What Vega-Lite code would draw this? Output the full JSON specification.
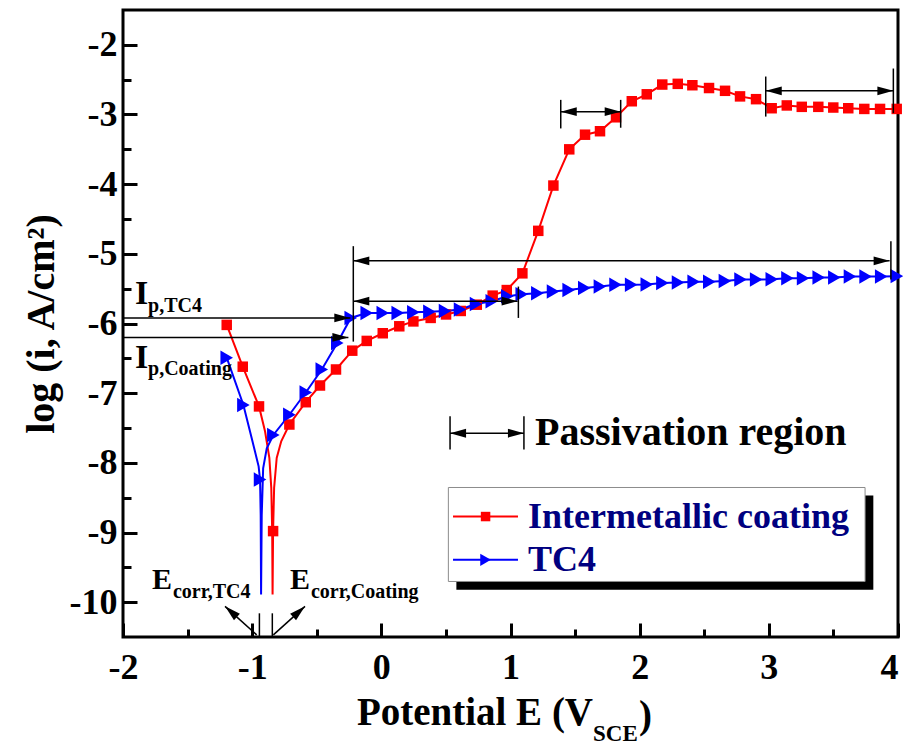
{
  "$schema": "https://vega.github.io/schema/vega-lite/v6.json",
  "width": 775,
  "height": 627,
  "autosize": {"type": "none"},
  "padding": {"left": 123, "top": 10, "right": 5, "bottom": 109},
  "background": "white",
  "config": {"view": {"stroke": "#000000", "strokeWidth": 3}},
  "resolve": {"axis": {"x": "independent", "y": "independent"}},
  "datasets": {
    "curves": [
      {"series": "Intermetallic coating", "x": -1.197, "y": -6.02},
      {"series": "Intermetallic coating", "x": -1.073, "y": -6.62},
      {"series": "Intermetallic coating", "x": -0.947, "y": -7.19},
      {"series": "Intermetallic coating", "x": -0.9, "y": -7.55},
      {"series": "Intermetallic coating", "x": -0.867, "y": -7.93},
      {"series": "Intermetallic coating", "x": -0.852, "y": -8.36},
      {"series": "Intermetallic coating", "x": -0.845, "y": -8.99},
      {"series": "Intermetallic coating", "x": -0.842, "y": -9.89},
      {"series": "Intermetallic coating", "x": -0.838, "y": -8.98},
      {"series": "Intermetallic coating", "x": -0.83, "y": -8.36},
      {"series": "Intermetallic coating", "x": -0.81, "y": -7.93},
      {"series": "Intermetallic coating", "x": -0.775, "y": -7.69},
      {"series": "Intermetallic coating", "x": -0.712, "y": -7.45},
      {"series": "Intermetallic coating", "x": -0.585, "y": -7.13},
      {"series": "Intermetallic coating", "x": -0.475, "y": -6.89},
      {"series": "Intermetallic coating", "x": -0.351, "y": -6.66},
      {"series": "Intermetallic coating", "x": -0.225, "y": -6.39},
      {"series": "Intermetallic coating", "x": -0.113, "y": -6.25},
      {"series": "Intermetallic coating", "x": 0.011, "y": -6.14},
      {"series": "Intermetallic coating", "x": 0.139, "y": -6.04},
      {"series": "Intermetallic coating", "x": 0.248, "y": -5.97},
      {"series": "Intermetallic coating", "x": 0.382, "y": -5.92},
      {"series": "Intermetallic coating", "x": 0.501, "y": -5.87},
      {"series": "Intermetallic coating", "x": 0.615, "y": -5.82},
      {"series": "Intermetallic coating", "x": 0.739, "y": -5.73},
      {"series": "Intermetallic coating", "x": 0.862, "y": -5.6},
      {"series": "Intermetallic coating", "x": 0.971, "y": -5.52},
      {"series": "Intermetallic coating", "x": 1.092, "y": -5.28},
      {"series": "Intermetallic coating", "x": 1.215, "y": -4.67},
      {"series": "Intermetallic coating", "x": 1.332, "y": -4.02},
      {"series": "Intermetallic coating", "x": 1.455, "y": -3.5},
      {"series": "Intermetallic coating", "x": 1.577, "y": -3.29},
      {"series": "Intermetallic coating", "x": 1.693, "y": -3.24},
      {"series": "Intermetallic coating", "x": 1.817, "y": -3.04},
      {"series": "Intermetallic coating", "x": 1.939, "y": -2.81},
      {"series": "Intermetallic coating", "x": 2.055, "y": -2.71},
      {"series": "Intermetallic coating", "x": 2.175, "y": -2.57},
      {"series": "Intermetallic coating", "x": 2.295, "y": -2.56},
      {"series": "Intermetallic coating", "x": 2.408, "y": -2.58},
      {"series": "Intermetallic coating", "x": 2.537, "y": -2.62},
      {"series": "Intermetallic coating", "x": 2.661, "y": -2.66},
      {"series": "Intermetallic coating", "x": 2.777, "y": -2.74},
      {"series": "Intermetallic coating", "x": 2.901, "y": -2.78},
      {"series": "Intermetallic coating", "x": 3.022, "y": -2.91},
      {"series": "Intermetallic coating", "x": 3.139, "y": -2.87},
      {"series": "Intermetallic coating", "x": 3.255, "y": -2.89},
      {"series": "Intermetallic coating", "x": 3.383, "y": -2.89},
      {"series": "Intermetallic coating", "x": 3.499, "y": -2.9},
      {"series": "Intermetallic coating", "x": 3.615, "y": -2.91},
      {"series": "Intermetallic coating", "x": 3.739, "y": -2.92},
      {"series": "Intermetallic coating", "x": 3.861, "y": -2.92},
      {"series": "Intermetallic coating", "x": 3.99, "y": -2.92},
      {"series": "TC4", "x": -1.197, "y": -6.49},
      {"series": "TC4", "x": -1.068, "y": -7.17},
      {"series": "TC4", "x": -1.003, "y": -7.65},
      {"series": "TC4", "x": -0.95, "y": -8.05},
      {"series": "TC4", "x": -0.939, "y": -8.24},
      {"series": "TC4", "x": -0.934, "y": -8.75},
      {"series": "TC4", "x": -0.931, "y": -9.89},
      {"series": "TC4", "x": -0.926, "y": -8.75},
      {"series": "TC4", "x": -0.915, "y": -8.08},
      {"series": "TC4", "x": -0.887, "y": -7.79},
      {"series": "TC4", "x": -0.836, "y": -7.6},
      {"series": "TC4", "x": -0.712, "y": -7.31},
      {"series": "TC4", "x": -0.585, "y": -6.99},
      {"series": "TC4", "x": -0.461, "y": -6.66},
      {"series": "TC4", "x": -0.341, "y": -6.28},
      {"series": "TC4", "x": -0.237, "y": -5.92},
      {"series": "TC4", "x": -0.113, "y": -5.85},
      {"series": "TC4", "x": 0.011, "y": -5.85},
      {"series": "TC4", "x": 0.127, "y": -5.85},
      {"series": "TC4", "x": 0.248, "y": -5.84},
      {"series": "TC4", "x": 0.372, "y": -5.83},
      {"series": "TC4", "x": 0.493, "y": -5.82},
      {"series": "TC4", "x": 0.609, "y": -5.8},
      {"series": "TC4", "x": 0.733, "y": -5.72},
      {"series": "TC4", "x": 0.855, "y": -5.68},
      {"series": "TC4", "x": 0.975, "y": -5.61},
      {"series": "TC4", "x": 1.087, "y": -5.58},
      {"series": "TC4", "x": 1.208, "y": -5.565},
      {"series": "TC4", "x": 1.329, "y": -5.54},
      {"series": "TC4", "x": 1.45, "y": -5.52},
      {"series": "TC4", "x": 1.571, "y": -5.49},
      {"series": "TC4", "x": 1.692, "y": -5.47},
      {"series": "TC4", "x": 1.813, "y": -5.445},
      {"series": "TC4", "x": 1.934, "y": -5.445},
      {"series": "TC4", "x": 2.055, "y": -5.44},
      {"series": "TC4", "x": 2.176, "y": -5.42},
      {"series": "TC4", "x": 2.297, "y": -5.41},
      {"series": "TC4", "x": 2.418, "y": -5.4},
      {"series": "TC4", "x": 2.539, "y": -5.4},
      {"series": "TC4", "x": 2.66, "y": -5.39},
      {"series": "TC4", "x": 2.781, "y": -5.37},
      {"series": "TC4", "x": 2.902, "y": -5.37},
      {"series": "TC4", "x": 3.023, "y": -5.365},
      {"series": "TC4", "x": 3.144, "y": -5.35},
      {"series": "TC4", "x": 3.265, "y": -5.35},
      {"series": "TC4", "x": 3.386, "y": -5.34},
      {"series": "TC4", "x": 3.507, "y": -5.34},
      {"series": "TC4", "x": 3.628, "y": -5.325},
      {"series": "TC4", "x": 3.749, "y": -5.325},
      {"series": "TC4", "x": 3.87, "y": -5.325},
      {"series": "TC4", "x": 3.991, "y": -5.32}
    ],
    "markers": [
      {"series": "Intermetallic coating", "x": -1.197, "y": -6.02},
      {"series": "Intermetallic coating", "x": -1.073, "y": -6.62},
      {"series": "Intermetallic coating", "x": -0.947, "y": -7.19},
      {"series": "Intermetallic coating", "x": -0.838, "y": -8.98},
      {"series": "Intermetallic coating", "x": -0.712, "y": -7.45},
      {"series": "Intermetallic coating", "x": -0.585, "y": -7.13},
      {"series": "Intermetallic coating", "x": -0.475, "y": -6.89},
      {"series": "Intermetallic coating", "x": -0.351, "y": -6.66},
      {"series": "Intermetallic coating", "x": -0.225, "y": -6.39},
      {"series": "Intermetallic coating", "x": -0.113, "y": -6.25},
      {"series": "Intermetallic coating", "x": 0.011, "y": -6.14},
      {"series": "Intermetallic coating", "x": 0.139, "y": -6.04},
      {"series": "Intermetallic coating", "x": 0.248, "y": -5.97},
      {"series": "Intermetallic coating", "x": 0.382, "y": -5.92},
      {"series": "Intermetallic coating", "x": 0.501, "y": -5.87},
      {"series": "Intermetallic coating", "x": 0.615, "y": -5.82},
      {"series": "Intermetallic coating", "x": 0.739, "y": -5.73},
      {"series": "Intermetallic coating", "x": 0.862, "y": -5.6},
      {"series": "Intermetallic coating", "x": 0.971, "y": -5.52},
      {"series": "Intermetallic coating", "x": 1.092, "y": -5.28},
      {"series": "Intermetallic coating", "x": 1.215, "y": -4.67},
      {"series": "Intermetallic coating", "x": 1.332, "y": -4.02},
      {"series": "Intermetallic coating", "x": 1.455, "y": -3.5},
      {"series": "Intermetallic coating", "x": 1.577, "y": -3.29},
      {"series": "Intermetallic coating", "x": 1.693, "y": -3.24},
      {"series": "Intermetallic coating", "x": 1.817, "y": -3.04},
      {"series": "Intermetallic coating", "x": 1.939, "y": -2.81},
      {"series": "Intermetallic coating", "x": 2.055, "y": -2.71},
      {"series": "Intermetallic coating", "x": 2.175, "y": -2.57},
      {"series": "Intermetallic coating", "x": 2.295, "y": -2.56},
      {"series": "Intermetallic coating", "x": 2.408, "y": -2.58},
      {"series": "Intermetallic coating", "x": 2.537, "y": -2.62},
      {"series": "Intermetallic coating", "x": 2.661, "y": -2.66},
      {"series": "Intermetallic coating", "x": 2.777, "y": -2.74},
      {"series": "Intermetallic coating", "x": 2.901, "y": -2.78},
      {"series": "Intermetallic coating", "x": 3.022, "y": -2.91},
      {"series": "Intermetallic coating", "x": 3.139, "y": -2.87},
      {"series": "Intermetallic coating", "x": 3.255, "y": -2.89},
      {"series": "Intermetallic coating", "x": 3.383, "y": -2.89},
      {"series": "Intermetallic coating", "x": 3.499, "y": -2.9},
      {"series": "Intermetallic coating", "x": 3.615, "y": -2.91},
      {"series": "Intermetallic coating", "x": 3.739, "y": -2.92},
      {"series": "Intermetallic coating", "x": 3.861, "y": -2.92},
      {"series": "Intermetallic coating", "x": 3.99, "y": -2.92},
      {"series": "TC4", "x": -1.197, "y": -6.49},
      {"series": "TC4", "x": -1.068, "y": -7.17},
      {"series": "TC4", "x": -0.939, "y": -8.24},
      {"series": "TC4", "x": -0.836, "y": -7.6},
      {"series": "TC4", "x": -0.712, "y": -7.31},
      {"series": "TC4", "x": -0.585, "y": -6.99},
      {"series": "TC4", "x": -0.461, "y": -6.66},
      {"series": "TC4", "x": -0.341, "y": -6.28},
      {"series": "TC4", "x": -0.237, "y": -5.92},
      {"series": "TC4", "x": -0.113, "y": -5.85},
      {"series": "TC4", "x": 0.011, "y": -5.85},
      {"series": "TC4", "x": 0.127, "y": -5.85},
      {"series": "TC4", "x": 0.248, "y": -5.84},
      {"series": "TC4", "x": 0.372, "y": -5.83},
      {"series": "TC4", "x": 0.493, "y": -5.82},
      {"series": "TC4", "x": 0.609, "y": -5.8},
      {"series": "TC4", "x": 0.733, "y": -5.72},
      {"series": "TC4", "x": 0.855, "y": -5.68},
      {"series": "TC4", "x": 0.975, "y": -5.61},
      {"series": "TC4", "x": 1.087, "y": -5.58},
      {"series": "TC4", "x": 1.208, "y": -5.565},
      {"series": "TC4", "x": 1.329, "y": -5.54},
      {"series": "TC4", "x": 1.45, "y": -5.52},
      {"series": "TC4", "x": 1.571, "y": -5.49},
      {"series": "TC4", "x": 1.692, "y": -5.47},
      {"series": "TC4", "x": 1.813, "y": -5.445},
      {"series": "TC4", "x": 1.934, "y": -5.445},
      {"series": "TC4", "x": 2.055, "y": -5.44},
      {"series": "TC4", "x": 2.176, "y": -5.42},
      {"series": "TC4", "x": 2.297, "y": -5.41},
      {"series": "TC4", "x": 2.418, "y": -5.4},
      {"series": "TC4", "x": 2.539, "y": -5.4},
      {"series": "TC4", "x": 2.66, "y": -5.39},
      {"series": "TC4", "x": 2.781, "y": -5.37},
      {"series": "TC4", "x": 2.902, "y": -5.37},
      {"series": "TC4", "x": 3.023, "y": -5.365},
      {"series": "TC4", "x": 3.144, "y": -5.35},
      {"series": "TC4", "x": 3.265, "y": -5.35},
      {"series": "TC4", "x": 3.386, "y": -5.34},
      {"series": "TC4", "x": 3.507, "y": -5.34},
      {"series": "TC4", "x": 3.628, "y": -5.325},
      {"series": "TC4", "x": 3.749, "y": -5.325},
      {"series": "TC4", "x": 3.87, "y": -5.325},
      {"series": "TC4", "x": 3.991, "y": -5.32}
    ],
    "rules": [
      {"x": -2, "y": -5.92, "x2": -0.24, "y2": -5.92},
      {"x": -2, "y": -6.2, "x2": -0.255, "y2": -6.2},
      {"x": -0.217, "y": -4.89, "x2": -0.217, "y2": -6.26},
      {"x": -0.217, "y": -5.1, "x2": 3.935, "y2": -5.1},
      {"x": 3.945, "y": -4.82, "x2": 3.945, "y2": -5.37},
      {"x": -0.217, "y": -5.68, "x2": 1.055, "y2": -5.68},
      {"x": 1.061, "y": -5.47, "x2": 1.061, "y2": -5.92},
      {"x": 1.389, "y": -2.79, "x2": 1.389, "y2": -3.2},
      {"x": 1.853, "y": -2.79, "x2": 1.853, "y2": -3.19},
      {"x": 1.389, "y": -2.96, "x2": 1.853, "y2": -2.96},
      {"x": 2.976, "y": -2.455, "x2": 2.976, "y2": -3.03},
      {"x": 3.964, "y": -2.34, "x2": 3.964, "y2": -2.98},
      {"x": 2.976, "y": -2.66, "x2": 3.964, "y2": -2.66},
      {"x": 0.532, "y": -7.33, "x2": 0.532, "y2": -7.81},
      {"x": 1.104, "y": -7.33, "x2": 1.104, "y2": -7.81},
      {"x": 0.532, "y": -7.575, "x2": 1.104, "y2": -7.575},
      {"x": -0.944, "y": -10.16, "x2": -0.944, "y2": -10.5},
      {"x": -0.844, "y": -10.16, "x2": -0.844, "y2": -10.5},
      {"x": -0.965, "y": -10.47, "x2": -1.21, "y2": -10.06},
      {"x": -0.836, "y": -10.47, "x2": -0.591, "y2": -10.06}
    ],
    "heads": [
      {"x": -0.24, "y": -5.92, "dir": "right"},
      {"x": -0.255, "y": -6.2, "dir": "right"},
      {"x": -0.217, "y": -5.1, "dir": "left"},
      {"x": 3.935, "y": -5.1, "dir": "right"},
      {"x": -0.217, "y": -5.68, "dir": "left"},
      {"x": 1.055, "y": -5.68, "dir": "right"},
      {"x": 1.389, "y": -2.96, "dir": "left"},
      {"x": 1.853, "y": -2.96, "dir": "right"},
      {"x": 2.976, "y": -2.66, "dir": "left"},
      {"x": 3.964, "y": -2.66, "dir": "right"},
      {"x": 0.532, "y": -7.575, "dir": "left"},
      {"x": 1.104, "y": -7.575, "dir": "right"},
      {"x": -1.21, "y": -10.06, "dir": "upleft"},
      {"x": -0.591, "y": -10.06, "dir": "upright"}
    ],
    "texts": [
      {"kind": "big", "text": "I", "x": -1.908, "y": -5.713},
      {"kind": "big", "text": "I", "x": -1.908, "y": -6.632},
      {"kind": "E", "text": "E", "x": -1.775, "y": -9.816},
      {"kind": "E", "text": "E", "x": -0.707, "y": -9.816},
      {"kind": "sub", "text": "p,TC4", "x": -1.806, "y": -5.842},
      {"kind": "sub", "text": "p,Coating", "x": -1.806, "y": -6.746},
      {"kind": "sub", "text": "corr,TC4", "x": -1.613, "y": -9.945},
      {"kind": "sub", "text": "corr,Coating", "x": -0.545, "y": -9.945},
      {"kind": "region", "text": "Passivation region", "x": 1.19, "y": -7.741},
      {"kind": "title", "text": "Potential E (V", "x": 1.639, "y": -11.756},
      {"kind": "titlesub", "text": "SCE", "x": 1.639, "y": -11.99},
      {"kind": "paren", "text": ")", "x": 1.995, "y": -11.8}
    ],
    "legendbox": [
      {"part": "shadow", "x": 0.581, "x2": 3.809, "y": -8.469, "y2": -9.823},
      {"part": "box", "x": 0.519, "x2": 3.745, "y": -8.354, "y2": -9.703}
    ],
    "legendrows": [
      {"series": "Intermetallic coating", "x": 0.555, "x2": 1.058, "xm": 0.807, "xt": 1.136, "y": -8.771},
      {"series": "TC4", "x": 0.555, "x2": 1.058, "xm": 0.807, "xt": 1.136, "y": -9.392}
    ]
  },
  "encoding": {
    "x": {"field": "x", "type": "quantitative", "scale": {"domain": [-2, 4], "nice": false, "zero": false}, "axis": null},
    "y": {"field": "y", "type": "quantitative", "scale": {"domain": [-10.5, -1.5], "nice": false, "zero": false}, "axis": null}
  },
  "layer": [
    {
      "data": {"name": "curves"},
      "mark": {"type": "line", "strokeWidth": 2},
      "encoding": {
        "x": {"field": "x", "type": "quantitative", "scale": {"domain": [-2, 4], "nice": false, "zero": false},
          "axis": {"orient": "bottom", "values": [-2, -1, 0, 1, 2, 3, 4], "labelExpr": "'' + datum.value", "labelFont": "Liberation Serif", "labelFontWeight": "bold", "labelFontSize": 36, "labelColor": "#000000", "labelPadding": 27, "labelFlush": false, "labelOverlap": false,
            "labelAlign": {"condition": {"test": "datum.value == 4", "value": "right"}, "value": "center"},
            "tickSize": -14, "tickWidth": 3, "tickColor": "#000000", "domain": false, "grid": false, "title": null}},
        "y": {"field": "y", "type": "quantitative", "scale": {"domain": [-10.5, -1.5], "nice": false, "zero": false},
          "axis": {"orient": "left", "values": [-2, -3, -4, -5, -6, -7, -8, -9, -10], "labelExpr": "'' + datum.value", "labelFont": "Liberation Serif", "labelFontWeight": "bold", "labelFontSize": 36, "labelColor": "#000000", "labelPadding": 20, "labelFlush": false, "labelOverlap": false, "tickSize": -14, "tickWidth": 3, "tickColor": "#000000", "domain": false, "grid": false,
            "title": "log (i, A/cm²)", "titleFont": "Liberation Serif", "titleFontWeight": "bold", "titleFontSize": 40, "titleColor": "#000000", "titlePadding": 8}},
        "color": {"field": "series", "type": "nominal", "scale": {"domain": ["Intermetallic coating", "TC4"], "range": ["#ff0000", "#0000ff"]}, "legend": null}
      }
    },
    {
      "data": {"name": "markers"},
      "transform": [{"filter": "datum.series === 'Intermetallic coating'"}],
      "mark": {"type": "point", "shape": "square", "filled": true, "opacity": 1, "size": 110, "color": "#ff0000"},
      "encoding": {
        "x": {"field": "x", "type": "quantitative", "scale": {"domain": [-2, 4], "nice": false, "zero": false},
          "axis": {"orient": "bottom", "values": [-1.5, -0.5, 0.5, 1.5, 2.5, 3.5], "labels": false, "tickSize": -8, "tickWidth": 3, "tickColor": "#000000", "domain": false, "grid": false, "title": null}},
        "y": {"field": "y", "type": "quantitative", "scale": {"domain": [-10.5, -1.5], "nice": false, "zero": false},
          "axis": {"orient": "left", "values": [-2.5, -3.5, -4.5, -5.5, -6.5, -7.5, -8.5, -9.5], "labels": false, "tickSize": -8, "tickWidth": 3, "tickColor": "#000000", "domain": false, "grid": false, "title": null}}
      }
    },
    {
      "data": {"name": "markers"},
      "transform": [{"filter": "datum.series === 'TC4'"}],
      "mark": {"type": "point", "shape": "triangle-right", "filled": true, "opacity": 1, "size": 210, "color": "#0000ff"}
    },
    {
      "data": {"name": "rules"},
      "mark": {"type": "rule", "color": "#000000", "strokeWidth": 1.5},
      "encoding": {
        "x2": {"field": "x2"},
        "y2": {"field": "y2"}
      }
    },
    {
      "data": {"name": "heads"},
      "mark": {"type": "point", "filled": true, "opacity": 1, "size": 256, "color": "#000000", "strokeWidth": 0},
      "encoding": {
        "shape": {"field": "dir", "type": "nominal", "legend": null,
          "scale": {"domain": ["right", "left", "upleft", "upright"],
            "range": ["M0,0L-2,-0.55L-2,0.55Z", "M0,0L2,-0.55L2,0.55Z", "M0,0L1.118,1.747L1.854,0.93Z", "M0,0L-1.854,0.93L-1.118,1.747Z"]}}
      }
    },
    {
      "data": {"name": "texts"},
      "transform": [{"filter": "datum.kind === 'big'"}],
      "mark": {"type": "text", "font": "Liberation Serif", "fontWeight": "bold", "fontSize": 34, "align": "left", "baseline": "alphabetic", "color": "#000000"},
      "encoding": {"text": {"field": "text"}}
    },
    {
      "data": {"name": "texts"},
      "transform": [{"filter": "datum.kind === 'E'"}],
      "mark": {"type": "text", "font": "Liberation Serif", "fontWeight": "bold", "fontSize": 30, "align": "left", "baseline": "alphabetic", "color": "#000000"},
      "encoding": {"text": {"field": "text"}}
    },
    {
      "data": {"name": "texts"},
      "transform": [{"filter": "datum.kind === 'sub'"}],
      "mark": {"type": "text", "font": "Liberation Serif", "fontWeight": "bold", "fontSize": 20, "align": "left", "baseline": "alphabetic", "color": "#000000"},
      "encoding": {"text": {"field": "text"}}
    },
    {
      "data": {"name": "texts"},
      "transform": [{"filter": "datum.kind === 'region'"}],
      "mark": {"type": "text", "font": "Liberation Serif", "fontWeight": "bold", "fontSize": 40, "align": "left", "baseline": "alphabetic", "color": "#000000"},
      "encoding": {"text": {"field": "text"}}
    },
    {
      "data": {"name": "texts"},
      "transform": [{"filter": "datum.kind === 'title'"}],
      "mark": {"type": "text", "font": "Liberation Serif", "fontWeight": "bold", "fontSize": 39, "align": "right", "baseline": "alphabetic", "color": "#000000"},
      "encoding": {"text": {"field": "text"}}
    },
    {
      "data": {"name": "texts"},
      "transform": [{"filter": "datum.kind === 'titlesub'"}],
      "mark": {"type": "text", "font": "Liberation Serif", "fontWeight": "bold", "fontSize": 23, "align": "left", "baseline": "alphabetic", "color": "#000000"},
      "encoding": {"text": {"field": "text"}}
    },
    {
      "data": {"name": "texts"},
      "transform": [{"filter": "datum.kind === 'paren'"}],
      "mark": {"type": "text", "font": "Liberation Serif", "fontWeight": "bold", "fontSize": 39, "align": "left", "baseline": "alphabetic", "color": "#000000"},
      "encoding": {"text": {"field": "text"}}
    },
    {
      "data": {"name": "legendbox"},
      "transform": [{"filter": "datum.part === 'shadow'"}],
      "mark": {"type": "rect", "color": "#000000"},
      "encoding": {"x2": {"field": "x2"}, "y2": {"field": "y2"}}
    },
    {
      "data": {"name": "legendbox"},
      "transform": [{"filter": "datum.part === 'box'"}],
      "mark": {"type": "rect", "fill": "#ffffff", "stroke": "#8c8c8c", "strokeWidth": 1},
      "encoding": {"x2": {"field": "x2"}, "y2": {"field": "y2"}}
    },
    {
      "data": {"name": "legendrows"},
      "mark": {"type": "rule", "strokeWidth": 2},
      "encoding": {
        "x2": {"field": "x2"},
        "color": {"field": "series", "type": "nominal", "scale": {"domain": ["Intermetallic coating", "TC4"], "range": ["#ff0000", "#0000ff"]}, "legend": null}
      }
    },
    {
      "data": {"name": "legendrows"},
      "transform": [{"filter": "datum.series === 'Intermetallic coating'"}],
      "mark": {"type": "point", "shape": "square", "filled": true, "opacity": 1, "size": 90, "color": "#ff0000"},
      "encoding": {"x": {"field": "xm", "type": "quantitative", "scale": {"domain": [-2, 4], "nice": false, "zero": false}, "axis": null}}
    },
    {
      "data": {"name": "legendrows"},
      "transform": [{"filter": "datum.series === 'TC4'"}],
      "mark": {"type": "point", "shape": "triangle-right", "filled": true, "opacity": 1, "size": 150, "color": "#0000ff"},
      "encoding": {"x": {"field": "xm", "type": "quantitative", "scale": {"domain": [-2, 4], "nice": false, "zero": false}, "axis": null}}
    },
    {
      "data": {"name": "legendrows"},
      "mark": {"type": "text", "font": "Liberation Serif", "fontWeight": "bold", "fontSize": 36, "align": "left", "baseline": "middle", "color": "#000080"},
      "encoding": {
        "x": {"field": "xt", "type": "quantitative", "scale": {"domain": [-2, 4], "nice": false, "zero": false}, "axis": null},
        "text": {"field": "series"}
      }
    }
  ]
}
